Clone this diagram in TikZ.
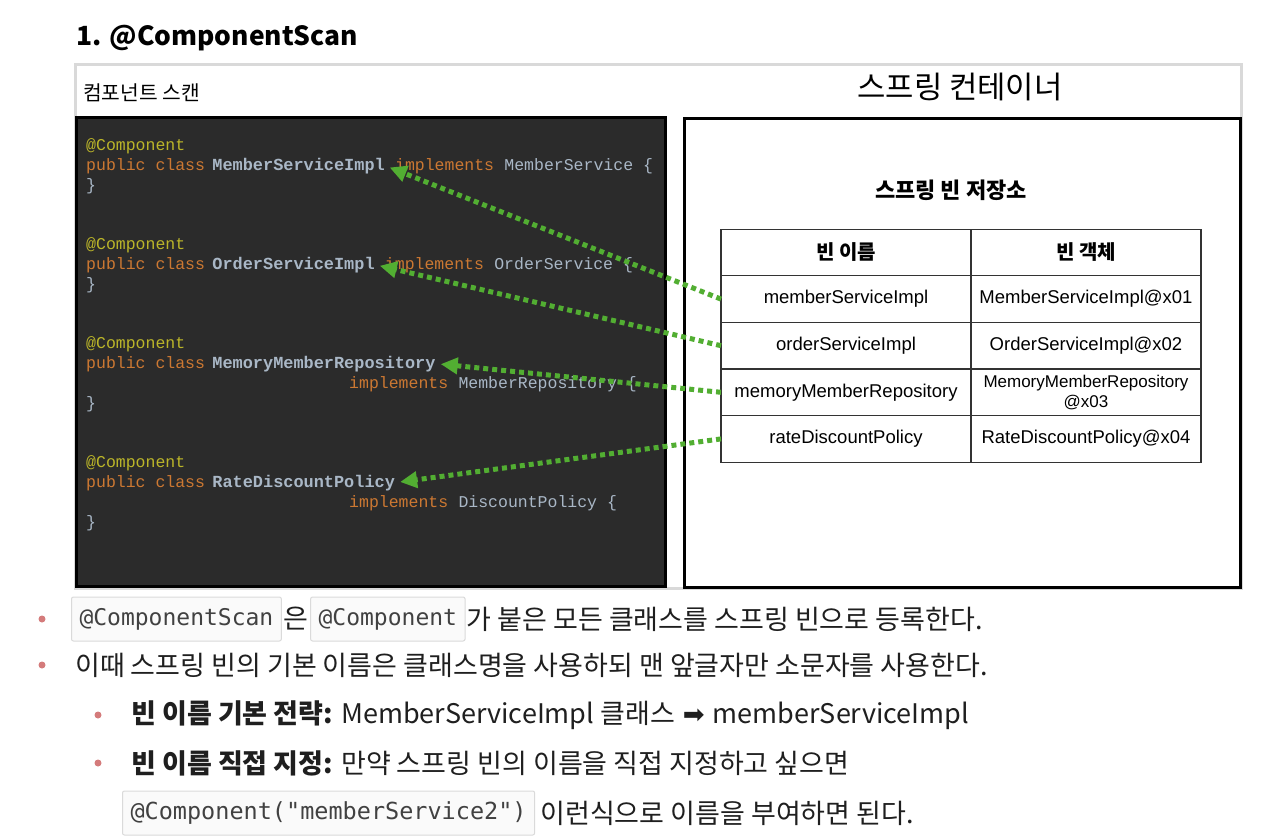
\documentclass[tikz,border=0pt]{standalone}
\usepackage{fontspec}
\setmainfont{Noto Sans CJK KR}
\newfontfamily\codefont{Liberation Mono}
\newfontfamily\cellfont{Liberation Sans}
\newfontfamily\inlinefont{DejaVu Sans Mono}
\newfontfamily\arrowfont{DejaVu Sans}
\usetikzlibrary{positioning,arrows.meta}

\definecolor{panelbg}{HTML}{2B2B2B}
\definecolor{annotcol}{HTML}{BBB529}
\definecolor{kwcol}{HTML}{CC7832}
\definecolor{identcol}{HTML}{A9B7C6}
\definecolor{arrowgreen}{HTML}{52AE32}
\definecolor{framegray}{HTML}{D9D9D9}
\definecolor{bulletred}{HTML}{D47B7B}
\definecolor{boxgray}{HTML}{DADADA}
\definecolor{boxfill}{HTML}{FAFAFA}
\definecolor{tableline}{HTML}{333333}
\definecolor{bodytext}{HTML}{1F1F1F}

\tikzstyle{code} = [anchor=base west, inner sep=0pt, font=\codefont\fontsize{16.5}{20}\selectfont]
\tikzstyle{annot} = [code, text=annotcol]
\tikzstyle{kwd} = [code, text=kwcol]
\tikzstyle{ident} = [code, text=identcol]
\tikzstyle{clsname} = [code, text=identcol, font=\codefont\bfseries\fontsize{16.9}{20}\selectfont]
\tikzstyle{cell} = [draw=tableline, line width=1.2pt, minimum height=46.6pt, inner sep=0pt, outer sep=0pt, align=center, font=\cellfont\fontsize{18.5}{21}\selectfont]
\tikzstyle{headcell} = [cell, font=\bfseries\fontsize{20}{23}\selectfont]
\tikzstyle{dots} = [draw=arrowgreen, line width=5pt, dash pattern=on 5pt off 4pt, shorten >=5pt, -{Triangle[length=17pt,width=16pt]}]
\tikzstyle{body} = [anchor=west, inner sep=0pt, text=bodytext, font=\fontsize{27}{32}\selectfont]
\tikzstyle{inlinecode} = [anchor=west, draw=boxgray, fill=boxfill, rounded corners=2pt, line width=1pt, inner xsep=8pt, minimum height=44pt, text=bodytext!85, font=\inlinefont\fontsize{23.5}{27}\selectfont]
\tikzstyle{bulletdot} = [circle, fill=bulletred, inner sep=0pt, minimum size=7pt]

\begin{document}
\begin{tikzpicture}[x=1pt, y=-1pt]
\useasboundingbox (0,0) rectangle (1266,836);
%title
\node[anchor=west, inner sep=0pt, font=\bfseries\fontsize{26.4}{30}\selectfont] (title) at (76,38) {1. @ComponentScan};
%frames
\draw[framegray, line width=3pt] (75,64) rectangle (1241,588);
\node[anchor=west, inner sep=0pt, font=\fontsize{20.3}{24}\selectfont] (scanlabel) at (83,93) {컴포넌트 스캔};
\node[inner sep=0pt, font=\fontsize{30.8}{36}\selectfont] (container) at (960,87) {스프링 컨테이너};
\draw[fill=panelbg, line width=3pt] (76,117) rectangle (665,586);
\draw[fill=white, line width=3pt] (684,118) rectangle (1240,587);
%begin code panel
\node[annot] (at1) at (86,150) {@Component};
\node[kwd] (pub1) at (86,170) {public class};
\node[clsname, base right=7pt of pub1] (cls1) {MemberServiceImpl};
\node[kwd, base right=9.9pt of cls1] (impl1) {implements};
\node[ident, base right=9.9pt of impl1] (if1) {MemberService \{};
\node[ident] (br1) at (86,190) {\}};
%
\node[annot] (at2) at (86,249) {@Component};
\node[kwd] (pub2) at (86,269) {public class};
\node[clsname, base right=7pt of pub2] (cls2) {OrderServiceImpl};
\node[kwd, base right=9.9pt of cls2] (impl2) {implements};
\node[ident, base right=9.9pt of impl2] (if2) {OrderService \{};
\node[ident] (br2) at (86,289) {\}};
%
\node[annot] (at3) at (86,348) {@Component};
\node[kwd] (pub3) at (86,368) {public class};
\node[clsname, base right=7pt of pub3] (cls3) {MemoryMemberRepository};
\node[kwd] (impl3) at (349,388) {implements};
\node[ident, base right=9.9pt of impl3] (if3) {MemberRepository \{};
\node[ident] (br3) at (86,408) {\}};
%
\node[annot] (at4) at (86,467) {@Component};
\node[kwd] (pub4) at (86,487) {public class};
\node[clsname, base right=7pt of pub4] (cls4) {RateDiscountPolicy};
\node[kwd] (impl4) at (349,507) {implements};
\node[ident, base right=9.9pt of impl4] (if4) {DiscountPolicy \{};
\node[ident] (br4) at (86,527) {\}};
%end code panel
%begin bean store
\node[inner sep=0pt, font=\bfseries\fontsize{22}{25}\selectfont] (store) at (951,190) {스프링 빈 저장소};
\node[headcell, minimum width=250pt] (h1) at (846,252.5) {빈 이름};
\node[headcell, minimum width=230pt, right=0pt of h1] (h2) {빈 객체};
\node[cell, minimum width=250pt, below=0pt of h1] (n1) {memberServiceImpl};
\node[cell, minimum width=230pt, right=0pt of n1] (o1) {MemberServiceImpl@x01};
\node[cell, minimum width=250pt, below=0pt of n1] (n2) {orderServiceImpl};
\node[cell, minimum width=230pt, right=0pt of n2] (o2) {OrderServiceImpl@x02};
\node[cell, minimum width=250pt, below=0pt of n2] (n3) {memoryMemberRepository};
\node[cell, minimum width=230pt, right=0pt of n3, font=\cellfont\fontsize{17}{20}\selectfont] (o3) {MemoryMemberRepository\\@x03};
\node[cell, minimum width=250pt, below=0pt of n3] (n4) {rateDiscountPolicy};
\node[cell, minimum width=230pt, right=0pt of n4] (o4) {RateDiscountPolicy@x04};
%end bean store
%arrows
\draw[dots] (n1.west) -- (cls1.east);
\draw[dots] (n2.west) -- (cls2.east);
\draw[dots] (n3.west) -- (cls3.east);
\draw[dots] (n4.west) -- (cls4.east);
%begin notes
\node[bulletdot] (b1) at (42,619) {};
\node[inlinecode, font=\inlinefont\fontsize{23}{27}\selectfont] (scan) at (71,619) {@ComponentScan};
\node[body, right=1pt of scan] (eun) {은};
\node[inlinecode, font=\inlinefont\fontsize{23}{27}\selectfont, right=2pt of eun] (comp) {@Component};
\node[body, right=1pt of comp] (line1) {가 붙은 모든 클래스를 스프링 빈으로 등록한다.};
\node[bulletdot] (b2) at (42,665) {};
\node[body] (line2) at (75,665) {이때 스프링 빈의 기본 이름은 클래스명을 사용하되 맨 앞글자만 소문자를 사용한다.};
\node[bulletdot] (b3) at (98,715) {};
\node[body] (line3) at (131,715) {\textbf{빈 이름 기본 전략:} MemberServiceImpl 클래스 \hspace{2pt}{\arrowfont\fontsize{26}{30}\selectfont ➡}\hspace{2pt} memberServiceImpl};
\node[bulletdot] (b4) at (98,763) {};
\node[body] (line4) at (131,763) {\textbf{빈 이름 직접 지정:} 만약 스프링 빈의 이름을 직접 지정하고 싶으면};
\node[inlinecode] (named) at (122,813) {@Component("memberService2")};
\node[body, right=5pt of named] (line5) {이런식으로 이름을 부여하면 된다.};
%end notes
\end{tikzpicture}
\end{document}
